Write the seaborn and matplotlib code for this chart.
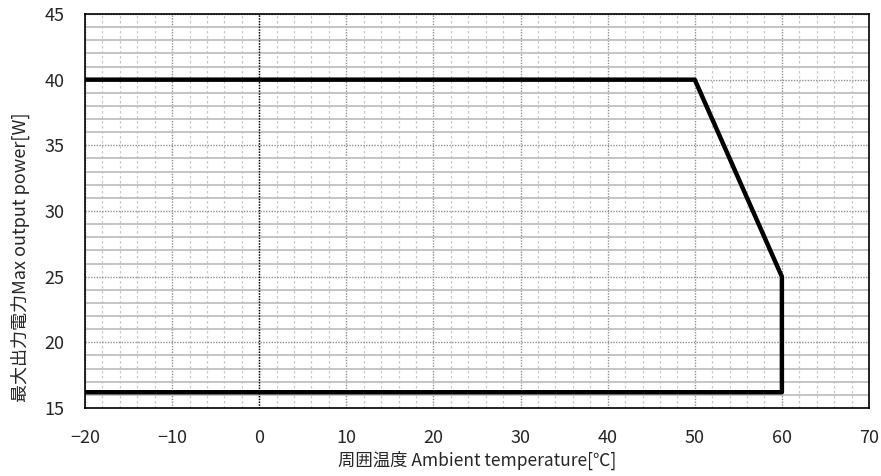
import matplotlib
matplotlib.use("Agg")
import matplotlib.pyplot as plt
import seaborn as sns
import pandas as pd
from matplotlib.ticker import MultipleLocator

temps = [-20, 50, 60, 60, -20]
power = [40, 40, 25, 16.2, 16.2]
order = [0, 1, 2, 3, 4]
xlabel = "周囲温度 Ambient temperature[℃]"
ylabel = "最大出力電力Max output power[W]"

sns.set_style("white")
plt.rcParams['font.family'] = ['Noto Sans CJK JP', 'DejaVu Sans']
plt.rcParams['axes.unicode_minus'] = True

df = pd.DataFrame({"t": temps, "p": power, "o": order})

fig = plt.figure(figsize=(8.81, 4.76), dpi=100)
ax = fig.add_axes([85/881, 1 - 408/476, (869-85)/881, (408-14)/476])

ax.set_xlim(-20, 70)
ax.set_ylim(15, 45)
ax.xaxis.set_major_locator(MultipleLocator(10))
ax.xaxis.set_minor_locator(MultipleLocator(2))
ax.yaxis.set_major_locator(MultipleLocator(5))
ax.yaxis.set_minor_locator(MultipleLocator(1))

ax.grid(which='minor', axis='x', color='#c8c8c8', linestyle=(0, (2, 2)), linewidth=0.9)
ax.grid(which='minor', axis='y', color='#c0c0c0', linestyle='-', linewidth=1.3)
ax.grid(which='major', axis='x', color='#909090', linestyle=(0, (1, 1)), linewidth=1.0)
ax.grid(which='major', axis='y', color='#909090', linestyle=(0, (1, 1)), linewidth=1.0)
ax.axvline(0, color='black', linestyle=(0, (1, 1)), linewidth=1.0, zorder=1.5)

sns.lineplot(data=df, x="t", y="p", sort=False, estimator=None, color='black',
             linewidth=3.2, ax=ax, zorder=3)

for s in ax.spines.values():
    s.set_linestyle((0, (1, 1)))
    s.set_linewidth(1.2)
    s.set_color('black')

ax.tick_params(axis='both', which='both', length=0, labelsize=13)
ax.tick_params(axis='x', pad=15)
ax.tick_params(axis='y', pad=15)
ax.set_xlabel(xlabel, fontsize=12.5, labelpad=3)
ax.set_ylabel(ylabel, fontsize=13)
ax.yaxis.set_label_coords(-0.070, 0.383)

fig.savefig("out.png", dpi=100)
